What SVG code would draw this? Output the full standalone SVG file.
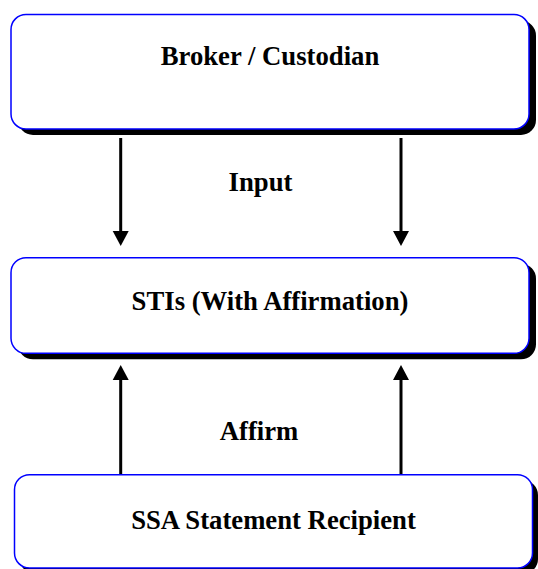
<svg xmlns="http://www.w3.org/2000/svg" width="538" height="569" viewBox="0 0 538 569">
<style>
.shadow{fill:#000;stroke:none}
.box{fill:#fff;stroke:#0000ff;stroke-width:1.5}
text{font-family:'Liberation Serif','Times New Roman','DejaVu Serif',serif;font-weight:bold;font-size:26.7px;fill:#000;text-anchor:middle}
.conn{stroke:#000;stroke-width:3;fill:none}
.head{fill:#000;stroke:none}
</style>
<rect width="538" height="569" fill="#fff"/>
<g id="node-broker">
<rect class="shadow" x="18" y="20.5" width="518" height="114.5" rx="15" ry="15"/>
<rect class="box" x="11" y="14.5" width="518" height="114.5" rx="15" ry="15"/>
<text x="270" y="65" font-family="Liberation Serif, serif">Broker / Custodian</text>
</g>
<g id="node-stis">
<rect class="shadow" x="18" y="263.7" width="518" height="95.6" rx="15" ry="15"/>
<rect class="box" x="11" y="257.7" width="518" height="95.6" rx="15" ry="15"/>
<text x="270" y="310">STIs (With Affirmation)</text>
</g>
<g id="node-ssa">
<rect class="shadow" x="20" y="480" width="518" height="94" rx="15" ry="15"/>
<rect class="box" x="14.5" y="474.7" width="518" height="93.3" rx="15" ry="15"/>
<text x="273.5" y="529">SSA Statement Recipient</text>
</g>
<g id="connectors">
<line class="conn" x1="120.7" y1="138" x2="120.7" y2="233"/>
<polygon class="head" points="112.7,231 128.7,231 120.7,246"/>
<line class="conn" x1="401" y1="138" x2="401" y2="233"/>
<polygon class="head" points="393,231 409,231 401,246"/>
<text x="260.5" y="191">Input</text>
<line class="conn" x1="120.7" y1="474" x2="120.7" y2="378"/>
<polygon class="head" points="112.7,380 128.7,380 120.7,365"/>
<line class="conn" x1="401" y1="474" x2="401" y2="378"/>
<polygon class="head" points="393,380 409,380 401,365"/>
<text x="259" y="440">Affirm</text>
</g>
</svg>
